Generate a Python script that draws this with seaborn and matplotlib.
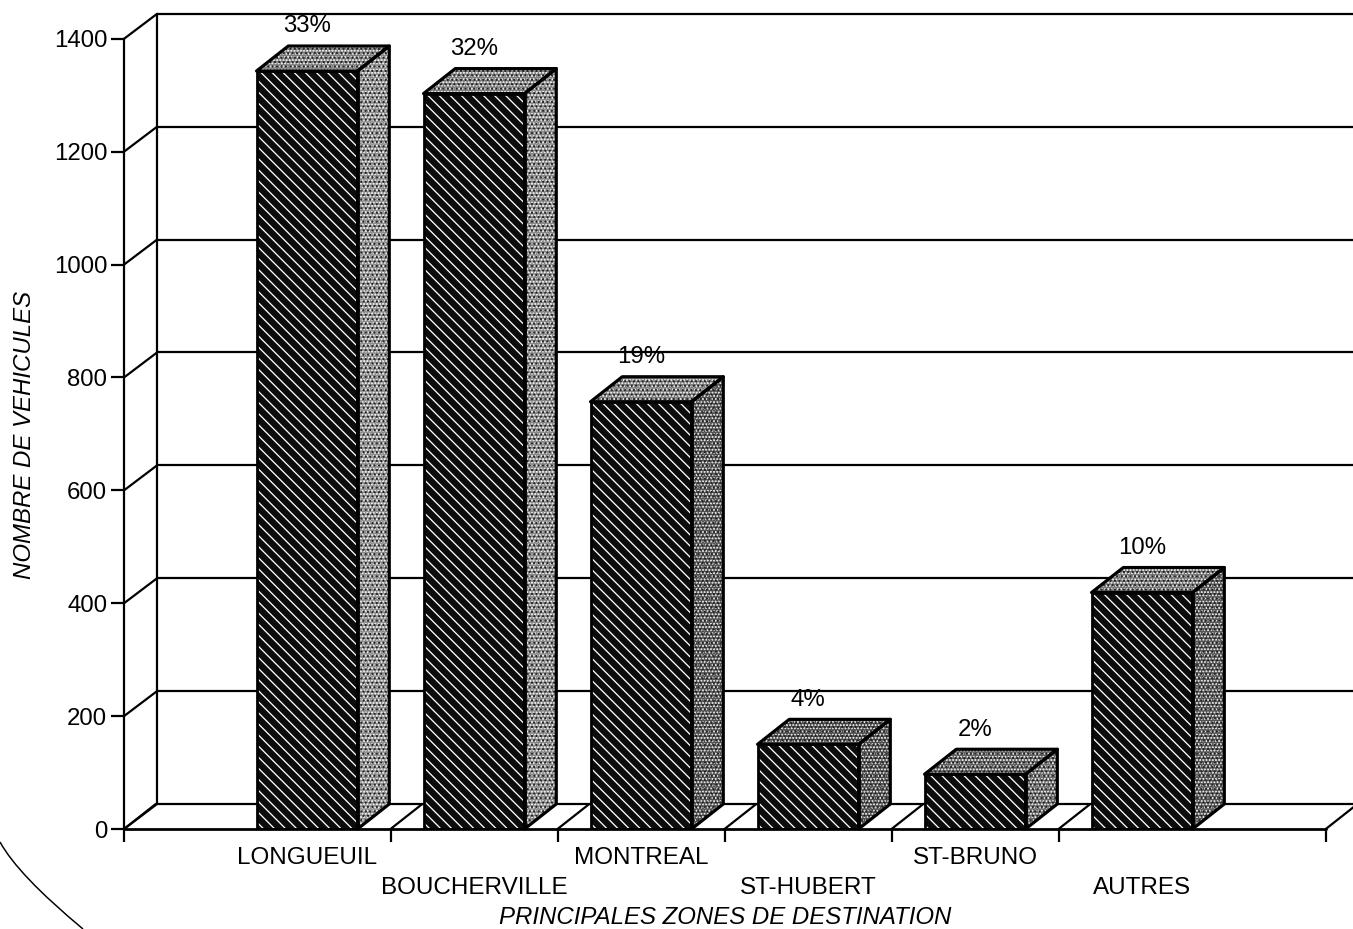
import numpy as np
import pandas as pd
import matplotlib
matplotlib.use('Agg')
import matplotlib.pyplot as plt
from matplotlib.patches import Polygon, PathPatch
from matplotlib.path import Path
import seaborn as sns

# values
zones = ['LONGUEUIL', 'BOUCHERVILLE', 'MONTREAL', 'ST-HUBERT', 'ST-BRUNO', 'AUTRES']
vehicules = [1343, 1303, 757, 150, 97, 419]
percents = ['33%', '32%', '19%', '4%', '2%', '10%']
y_ticks = [0, 200, 400, 600, 800, 1000, 1200, 1400]

# style of the side and top faces, one per bar
side_greys = ['#8c8c8c', '#868686', '#505050', '#4c4c4c', '#686868', '#525252']
top_greys = ['#7c7c7c', '#7c7c7c', '#7c7c7c', '#484848', '#5c5c5c', '#747474']

W, H, DPI = 1353, 929, 133  # 133 dpi gives the hatch pitch of the original
DEPTH_X, DEPTH_Y = 0.19, 44.3  # fake 3d offset, data units

sns.set_theme(style='white')
plt.rcParams['font.family'] = ['Liberation Sans', 'DejaVu Sans']
plt.rcParams['hatch.linewidth'] = 0.7
plt.rcParams['text.color'] = 'black'
plt.rcParams['axes.labelcolor'] = 'black'
plt.rcParams['xtick.color'] = 'black'
plt.rcParams['ytick.color'] = 'black'

fig = plt.figure(figsize=(W / DPI, H / DPI), dpi=DPI)
ax = fig.add_axes([124 / W, 1 - 829 / H, (W - 124) / W, (829 - 14) / H])

df = pd.DataFrame({'zone': zones, 'vehicules': vehicules})
sns.barplot(data=df, x='zone', y='vehicules', color='#0c0c0c', saturation=1, width=0.605,
            edgecolor='white', linewidth=0, hatch='\\\\\\\\', ax=ax, zorder=3)
front_bars = list(ax.patches)
sns.barplot(data=df, x='zone', y='vehicules', color='black', fill=False, width=0.605,
            linewidth=1.5, ax=ax, zorder=4)

x_left, x_right = -1.096, 6.263
x_end = 6.1
ax.set_xlim(x_left, x_right)
ax.set_ylim(0, 1444)


def face(points, grey, zorder):
    ax.add_patch(Polygon(points, closed=True, facecolor=grey, edgecolor='white', linewidth=0,
                         hatch='.......', zorder=zorder, clip_on=False))
    ax.add_patch(Polygon(points, closed=True, fill=False, edgecolor='#222222', linewidth=0,
                         hatch='.....', zorder=zorder + 0.05, clip_on=False))
    ax.add_patch(Polygon(points, closed=True, fill=False, edgecolor='black', linewidth=1.7,
                         joinstyle='round', zorder=zorder + 0.1, clip_on=False))


for bar, side, top in zip(front_bars, side_greys, top_greys):
    x0, x1, h = bar.get_x(), bar.get_x() + bar.get_width(), bar.get_height()
    face([(x1, 0), (x1 + DEPTH_X, DEPTH_Y), (x1 + DEPTH_X, h + DEPTH_Y), (x1, h)], side, 3.2)
    face([(x0, h), (x0 + DEPTH_X, h + DEPTH_Y), (x1 + DEPTH_X, h + DEPTH_Y), (x1, h)], top, 3.2)

# back wall and left wall
wall = dict(color='black', clip_on=False, solid_capstyle='round')
for v in y_ticks:
    ax.plot([x_left, x_left + DEPTH_X + 0.008], [v, v + DEPTH_Y], lw=1.2, zorder=1, **wall)
    right = x_right if v else x_end + DEPTH_X
    ax.plot([x_left + DEPTH_X + 0.008, right], [v + DEPTH_Y, v + DEPTH_Y], lw=1.2, zorder=1, **wall)
ax.plot([x_left + DEPTH_X + 0.008] * 2, [DEPTH_Y, 1400 + DEPTH_Y], lw=1.2, zorder=1, **wall)

# floor
boundaries = [x_left, 0.5, 1.5, 2.5, 3.5, 4.5, x_end]
for b in boundaries:
    ax.plot([b, b + DEPTH_X], [0, DEPTH_Y], lw=1.2, zorder=1, **wall)
ax.plot([x_left, x_end], [0, 0], lw=1.5, zorder=5, **wall)

# axes
sns.despine(ax=ax, top=True, right=True, bottom=True)
ax.spines['left'].set_bounds(0, 1400)
ax.spines['left'].set_color('black')
ax.spines['left'].set_linewidth(1.2)
ax.set_yticks(y_ticks)
ax.tick_params(axis='y', length=7, width=1.2, labelsize=13, pad=2, left=True)
ax.set_xticks(range(len(zones)), zones)
ax.set_xticks(boundaries, minor=True)
ax.tick_params(axis='x', which='major', length=0, labelsize=13.1)
ax.tick_params(axis='x', which='minor', length=7, width=1.2, bottom=True)
for i, tick in enumerate(ax.xaxis.get_major_ticks()):
    tick.set_pad(9.5 if i % 2 == 0 else 26)

ax.set_xlabel('PRINCIPALES ZONES DE DESTINATION', fontsize=13, style='italic', va='center')
ax.xaxis.set_label_coords((725 - 124) / (W - 124), -(917 - 829) / (829 - 14))
ax.set_ylabel('NOMBRE DE VEHICULES', fontsize=13, style='italic', va='center')
ax.yaxis.set_label_coords((25 - 124) / (W - 124), (829 - 435) / (829 - 14))

for i, (v, p) in enumerate(zip(vehicules, percents)):
    ax.text(i, v + 79, p, ha='center', va='center', fontsize=13, zorder=6, clip_on=False)

# scanned page edge, bottom left corner
edge = Path([(0, 1 - 842 / H), (18 / W, 1 - 875 / H), (83 / W, 1 - 929 / H)],
            [Path.MOVETO, Path.CURVE3, Path.CURVE3])
fig.add_artist(PathPatch(edge, fill=False, edgecolor='black', linewidth=0.8,
                         transform=fig.transFigure))

fig.savefig('out.png', dpi=DPI, facecolor='white')
